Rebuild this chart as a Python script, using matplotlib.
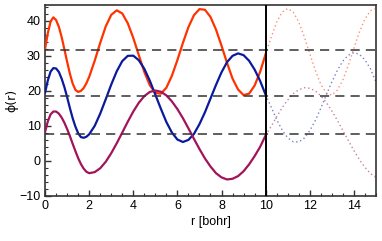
import matplotlib
matplotlib.use("Agg")
import matplotlib.pyplot as plt
from matplotlib.ticker import MultipleLocator

# radial grid (bohr)
r = [0, 0.125, 0.25, 0.375, 0.5, 0.625, 0.75, 0.875, 1.0, 1.125, 1.25, 1.375, 1.5, 1.625,
     1.75, 1.875, 2.0, 2.25, 2.5, 2.75,
     3.0, 3.25, 3.5, 3.75, 4.0, 4.25, 4.5, 4.75, 5.0, 5.25, 5.5, 5.75, 6.0, 6.25,
     6.5, 6.75, 7.0, 7.25, 7.5, 7.75, 8.0, 8.25, 8.5, 8.75, 9.0, 9.25, 9.5, 9.75,
     10.0, 10.25, 10.5, 10.75, 11.0, 11.25, 11.5, 11.75, 12.0, 12.25, 12.5, 12.75,
     13.0, 13.25, 13.5, 13.75, 14.0, 14.25, 14.5, 14.75, 15.0]

phi_red = [32.0, 36.5, 39.8, 41.0, 40.2, 38.3, 35.4, 31.9, 28.3, 24.9, 22.1, 20.3, 19.7, 20.0,
           20.8, 22.2, 24.0, 28.6, 33.7, 38.4,
           41.7, 43.0, 42.1, 39.3, 35.1, 30.2, 25.4, 21.6, 19.4, 19.2, 20.9, 24.3, 28.8, 33.7,
           38.2, 41.6, 43.35, 43.15, 41.1, 37.5, 32.9, 28.0, 23.5, 20.4, 18.8, 19.2, 21.5, 25.4,
           30.5, 35.3, 39.6, 42.5, 43.5, 42.5, 39.7, 35.5, 30.7, 25.9, 21.9, 19.4,
           18.8, 20.2, 23.1, 27.3, 32.1, 36.8, 40.5, 42.9, 43.5]

phi_blue = [19.5, 23.0, 25.5, 26.5, 26.4, 25.4, 23.5, 21.1, 18.2, 15.1, 12.2, 9.8, 7.9, 6.8,
            6.6, 6.9, 7.6, 10.0, 13.5, 17.6,
            21.8, 25.6, 28.5, 30.0, 30.05, 28.75, 26.3, 22.9, 18.9, 14.9, 11.1, 8.1, 6.1, 5.4,
            6.0, 7.7, 10.5, 13.9, 17.8, 21.7, 25.3, 28.2, 30.0, 30.7, 30.2, 28.6, 26.1, 22.85,
            18.9, 15.4, 11.8, 8.8, 6.6, 5.45, 5.4, 6.5, 8.6, 11.5, 15.0, 18.8,
            22.5, 25.8, 28.5, 30.2, 30.9, 30.45, 28.9, 26.35, 22.6]

phi_purple = [8.3, 11.3, 13.3, 14.1, 14.1, 13.5, 12.4, 10.9, 9.1, 7.1, 4.9, 2.8, 0.8, -0.9,
              -2.2, -3.1, -3.5, -3.2, -2.1, -0.25,
              2.2, 5.05, 8.1, 11.2, 14.1, 16.6, 18.5, 19.7, 20.1, 19.75, 18.7, 17.0, 14.8, 12.2,
              9.3, 6.3, 3.4, 0.7, -1.6, -3.5, -4.7, -5.3, -5.1, -4.35, -2.95, -1.0, 1.35, 4.0,
              7.3, 9.85, 12.6, 15.2, 17.4, 19.2, 20.3, 20.9, 20.75, 20.0, 18.6, 16.7,
              14.3, 11.6, 8.7, 5.8, 3.0, 0.4, -1.8, -3.6, -4.7]

levels = [31.8, 18.4, 7.8]
r_box = 10

colors = ["#ff3300", "#0a1a9c", "#a3135a"]

fig = plt.figure(figsize=(3.82, 2.41), dpi=100)
ax = fig.add_axes([0.118, 0.187, 0.866, 0.792])

i_box = r.index(r_box)
for y, c in zip([phi_red, phi_blue, phi_purple], colors):
    ax.plot(r[:i_box + 1], y[:i_box + 1], color=c, lw=1.6, zorder=3,
            solid_joinstyle="round")
    ax.plot(r[i_box:], y[i_box:], color=c, lw=1.0, ls=(0, (1, 2)), alpha=0.55, zorder=3)

for e in levels:
    ax.axhline(e, color="#333333", lw=1.1, ls=(0, (6, 4)), zorder=4)
ax.axvline(r_box, color="black", lw=1.4, zorder=5)

ax.set_xlim(0, 15)
ax.set_ylim(-10, 44.5)
ax.xaxis.set_major_locator(MultipleLocator(2))
ax.xaxis.set_minor_locator(MultipleLocator(0.5))
ax.yaxis.set_major_locator(MultipleLocator(10))
ax.yaxis.set_minor_locator(MultipleLocator(2))
ax.tick_params(which="both", direction="in", top=False, right=False,
               colors="#333333", labelcolor="black", labelsize=9, pad=3)
ax.tick_params(which="major", length=4, width=1)
ax.tick_params(which="minor", length=2, width=0.8)
for s in ax.spines.values():
    s.set_color("#333333")
    s.set_linewidth(1.2)

ax.set_xlabel("r [bohr]", fontsize=9, labelpad=3, family="Liberation Sans")
ax.set_ylabel("ϕ(r)", fontsize=9, labelpad=1)
for t in ax.get_xticklabels() + ax.get_yticklabels():
    t.set_family("Liberation Sans")

fig.savefig("out.png", dpi=100)
